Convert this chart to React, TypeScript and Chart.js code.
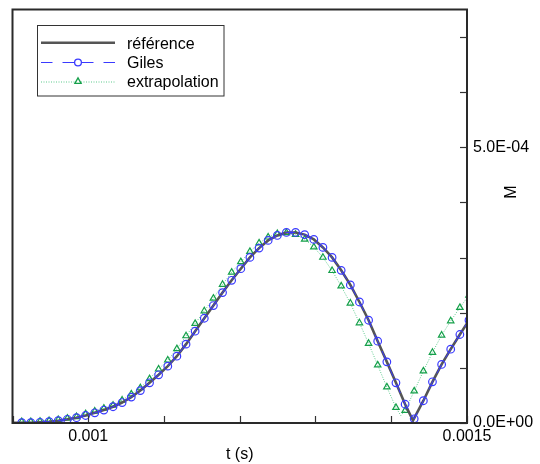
import React, { useEffect, useRef } from 'react';
import { Chart, registerables } from 'chart.js';

Chart.register(...registerables);

// ---- data (t in seconds, M dimensionless) ----
const times = [
  0.0009122, 0.0009242, 0.0009363, 0.0009483, 0.0009604, 0.0009724, 0.0009845, 0.0009965, 0.0010086, 0.0010206,
  0.0010327, 0.0010447, 0.0010568, 0.0010688, 0.0010809, 0.0010929, 0.0011050, 0.0011170, 0.0011291, 0.0011411,
  0.0011532, 0.0011652, 0.0011773, 0.0011893, 0.0012014, 0.0012134, 0.0012255, 0.0012375, 0.0012496, 0.0012616,
  0.0012737, 0.0012857, 0.0012978, 0.0013098, 0.0013219, 0.0013339, 0.0013460, 0.0013580, 0.0013701, 0.0013821,
  0.0013942, 0.0014062, 0.0014183, 0.0014303, 0.0014424, 0.0014544, 0.0014665, 0.0014785, 0.0014906, 0.0015026,
];

const gilesValues = [
  0.05e-5, 0.05e-5, 0.13e-5, 0.24e-5, 0.42e-5, 0.67e-5, 0.96e-5, 1.36e-5, 1.85e-5, 2.35e-5,
  2.95e-5, 3.71e-5, 4.70e-5, 5.88e-5, 7.29e-5, 8.74e-5, 10.31e-5, 12.12e-5, 14.30e-5, 16.65e-5,
  19.00e-5, 21.30e-5, 23.65e-5, 25.88e-5, 27.99e-5, 30.04e-5, 31.72e-5, 33.12e-5, 34.02e-5, 34.56e-5,
  34.56e-5, 34.17e-5, 33.30e-5, 31.85e-5, 30.04e-5, 27.69e-5, 25.05e-5, 21.95e-5, 18.64e-5, 14.84e-5,
  11.09e-5, 7.29e-5, 3.40e-5, 0.76e-5, 4.04e-5, 7.47e-5, 10.62e-5, 13.39e-5, 16.05e-5, 18.64e-5,
];

const referenceTimes = [
  0.0009000, 0.0009122, 0.0009242, 0.0009363, 0.0009483, 0.0009604, 0.0009724, 0.0009845, 0.0009965, 0.0010086, 0.0010206,
  0.0010327, 0.0010447, 0.0010568, 0.0010688, 0.0010809, 0.0010929, 0.0011050, 0.0011170, 0.0011291, 0.0011411,
  0.0011532, 0.0011652, 0.0011773, 0.0011893, 0.0012014, 0.0012134, 0.0012255, 0.0012375, 0.0012496, 0.0012616,
  0.0012737, 0.0012857, 0.0012978, 0.0013098, 0.0013219, 0.0013339, 0.0013460, 0.0013580, 0.0013701, 0.0013821,
  0.0013942, 0.0014062, 0.0014183, 0.0014287, 0.0014424, 0.0014544, 0.0014665, 0.0014785, 0.0014906, 0.0015026,
];

const referenceValues = [
  0.02e-5, 0.05e-5, 0.05e-5, 0.13e-5, 0.24e-5, 0.42e-5, 0.67e-5, 0.96e-5, 1.36e-5, 1.85e-5, 2.35e-5,
  2.95e-5, 3.71e-5, 4.70e-5, 5.88e-5, 7.29e-5, 8.74e-5, 10.31e-5, 12.12e-5, 14.30e-5, 16.65e-5,
  19.00e-5, 21.30e-5, 23.65e-5, 25.88e-5, 27.99e-5, 30.04e-5, 31.72e-5, 33.12e-5, 34.02e-5, 34.56e-5,
  34.56e-5, 34.17e-5, 33.30e-5, 31.85e-5, 30.04e-5, 27.69e-5, 25.05e-5, 21.95e-5, 18.64e-5, 14.84e-5,
  11.09e-5, 7.29e-5, 3.40e-5, 0.45e-5, 4.04e-5, 7.47e-5, 10.62e-5, 13.39e-5, 16.05e-5, 18.64e-5,
];

const extrapTimes = [
  0.0009122, 0.0009242, 0.0009363, 0.0009483, 0.0009604, 0.0009724, 0.0009845, 0.0009965, 0.0010086, 0.0010206,
  0.0010327, 0.0010447, 0.0010568, 0.0010688, 0.0010809, 0.0010929, 0.0011050, 0.0011170, 0.0011291, 0.0011411,
  0.0011532, 0.0011652, 0.0011773, 0.0011893, 0.0012014, 0.0012134, 0.0012255, 0.0012375, 0.0012496, 0.0012616,
  0.0012737, 0.0012857, 0.0012978, 0.0013098, 0.0013219, 0.0013339, 0.0013460, 0.0013580, 0.0013701, 0.0013821,
  0.0013942, 0.0014062, 0.0014126, 0.0014183, 0.0014303, 0.0014424, 0.0014544, 0.0014665, 0.0014785, 0.0014906,
  0.0015026,
];

const extrapValues = [
  0.24e-5, 0.24e-5, 0.31e-5, 0.42e-5, 0.60e-5, 0.85e-5, 1.14e-5, 1.66e-5, 2.14e-5, 2.66e-5,
  3.20e-5, 4.13e-5, 5.25e-5, 6.37e-5, 8.02e-5, 9.77e-5, 11.40e-5, 13.45e-5, 15.80e-5, 18.04e-5,
  20.32e-5, 22.62e-5, 25.12e-5, 27.33e-5, 29.23e-5, 31.09e-5, 32.63e-5, 33.71e-5, 34.33e-5, 34.51e-5,
  34.20e-5, 33.33e-5, 31.90e-5, 30.04e-5, 27.63e-5, 24.83e-5, 21.72e-5, 18.15e-5, 14.42e-5, 10.50e-5,
  6.51e-5, 2.80e-5, 1.36e-5, 2.26e-5, 5.79e-5, 9.41e-5, 12.79e-5, 15.92e-5, 18.51e-5, 20.94e-5,
  23.16e-5,
];
// index in extrapTimes that is a line vertex without a symbol
const extrapNoSymbol = [42];

const xTickValues = [0.0009, 0.001, 0.0011, 0.0012, 0.0013, 0.0014, 0.0015];
const xTickLabels = ['', '0.001', '', '', '', '', '0.0015'];
const yTickValues = [0, 1e-4, 2e-4, 3e-4, 4e-4, 5e-4, 6e-4, 7e-4];
const yTickLabels = ['0.0E+00', '', '', '', '', '5.0E-04', '', ''];

const seriesNames = ['référence', 'Giles', 'extrapolation'];
const xTitle = 't (s)';
const yTitle = 'M';

const FONT = "'Liberation Sans', Arial, Helvetica, sans-serif";
const GRAY = '#555555';
const BLUE = '#3a3aff';
const GREEN_LINE = '#5cc98c';
const GREEN_SYM = '#15a04a';

const decorPlugin = {
  id: 'decor',
  afterDraw(chart: any) {
    const { ctx, chartArea } = chart;
    const { left, right, top, bottom } = chartArea;
    ctx.save();
    // inward ticks
    ctx.strokeStyle = '#333';
    ctx.lineWidth = 1.2;
    const xs = chart.scales.x;
    xs.ticks.forEach((t: any) => {
      const px = Math.round(xs.getPixelForValue(t.value)) + 0.5;
      ctx.beginPath();
      ctx.moveTo(px, bottom);
      ctx.lineTo(px, bottom - 7);
      ctx.stroke();
    });
    const ys = chart.scales.y;
    ys.ticks.forEach((t: any) => {
      const py = Math.round(ys.getPixelForValue(t.value)) + 0.5;
      ctx.beginPath();
      ctx.moveTo(right, py);
      ctx.lineTo(right - 7, py);
      ctx.stroke();
    });
    // frame
    ctx.strokeStyle = '#2a2a2a';
    ctx.lineWidth = 2;
    ctx.strokeRect(left, top, right - left, bottom - top);

    // right axis title, reading bottom to top
    ctx.fillStyle = '#000';
    ctx.font = `16px ${FONT}`;
    ctx.textAlign = 'center';
    ctx.textBaseline = 'middle';
    ctx.save();
    ctx.translate(511.5, 192);
    ctx.rotate(-Math.PI / 2);
    ctx.fillText(yTitle, 0, 0);
    ctx.restore();

    // legend box
    ctx.strokeStyle = '#333';
    ctx.lineWidth = 1;
    ctx.strokeRect(37.5, 25.5, 186.5, 70.5);
    const x0 = 41, x1 = 115, xm = 78;
    const rows = [42.7, 62, 81.5];
    // référence
    ctx.strokeStyle = GRAY;
    ctx.lineWidth = 2.5;
    ctx.beginPath();
    ctx.moveTo(x0, rows[0]);
    ctx.lineTo(x1, rows[0]);
    ctx.stroke();
    // Giles
    ctx.strokeStyle = BLUE;
    ctx.lineWidth = 1;
    ctx.setLineDash([11.5, 10]);
    ctx.beginPath();
    ctx.moveTo(x0, rows[1] + 0.5);
    ctx.lineTo(xm, rows[1] + 0.5);
    ctx.stroke();
    ctx.beginPath();
    ctx.moveTo(x1, rows[1] + 0.5);
    ctx.lineTo(xm, rows[1] + 0.5);
    ctx.stroke();
    ctx.setLineDash([]);
    ctx.lineWidth = 1.3;
    ctx.fillStyle = '#fff';
    ctx.beginPath();
    ctx.arc(xm, rows[1] + 0.5, 3.4, 0, Math.PI * 2);
    ctx.fill();
    ctx.stroke();
    // extrapolation
    ctx.strokeStyle = GREEN_LINE;
    ctx.lineWidth = 1;
    ctx.setLineDash([1, 1.5]);
    ctx.beginPath();
    ctx.moveTo(x0, rows[2] + 0.5);
    ctx.lineTo(x1, rows[2] + 0.5);
    ctx.stroke();
    ctx.setLineDash([]);
    ctx.strokeStyle = GREEN_SYM;
    ctx.lineWidth = 1.3;
    const r = 3.6;
    ctx.beginPath();
    ctx.moveTo(xm, rows[2] - r);
    ctx.lineTo(xm + r * Math.sin((2 * Math.PI) / 3), rows[2] - r * Math.cos((2 * Math.PI) / 3));
    ctx.lineTo(xm + r * Math.sin((4 * Math.PI) / 3), rows[2] - r * Math.cos((4 * Math.PI) / 3));
    ctx.closePath();
    ctx.fillStyle = '#fff';
    ctx.fill();
    ctx.stroke();
    // legend text
    ctx.fillStyle = '#000';
    ctx.font = `16px ${FONT}`;
    ctx.textAlign = 'left';
    ctx.textBaseline = 'middle';
    seriesNames.forEach((name, i) => {
      ctx.fillText(name, 127, rows[i] + 1.5);
    });
    ctx.restore();
  },
};

const zeroPadding = (s: any) => {
  s.paddingTop = 0;
  s.paddingBottom = 0;
  s.paddingLeft = 0;
  s.paddingRight = 0;
};

export default function App() {
  const ref = useRef<HTMLCanvasElement | null>(null);
  useEffect(() => {
    document.body.style.margin = '0';
    const canvas = ref.current!;
    const chart = new Chart(canvas, {
      type: 'line',
      data: {
        datasets: [
          {
            label: seriesNames[0],
            data: referenceTimes.map((t, i) => ({ x: t, y: referenceValues[i] })),
            borderColor: GRAY,
            borderWidth: 2.6,
            pointRadius: 0,
            fill: false,
            order: 1,
          },
          {
            label: seriesNames[1],
            data: times.map((t, i) => ({ x: t, y: gilesValues[i] })),
            borderColor: BLUE,
            borderWidth: 1,
            borderDash: [10, 8],
            pointStyle: 'circle',
            pointRadius: 3.8,
            pointBorderWidth: 1.2,
            pointBorderColor: BLUE,
            pointBackgroundColor: 'rgba(0,0,0,0)',
            fill: false,
            order: 0,
          },
          {
            label: seriesNames[2],
            data: extrapTimes.map((t, i) => ({ x: t, y: extrapValues[i] })),
            borderColor: GREEN_LINE,
            borderWidth: 1,
            borderDash: [1, 1.5],
            pointStyle: 'triangle',
            pointRadius: (c: any) => (extrapNoSymbol.includes(c.dataIndex) ? 0 : 3.7),
            pointBorderWidth: 1.2,
            pointBorderColor: GREEN_SYM,
            pointBackgroundColor: 'rgba(0,0,0,0)',
            fill: false,
            order: 2,
          },
        ],
      },
      options: {
        animation: false,
        responsive: false,
        maintainAspectRatio: false,
        events: [],
        layout: { padding: { left: 12.5, top: 9.5, right: 0, bottom: 0 } },
        plugins: {
          legend: { display: false },
          tooltip: { enabled: false },
          title: { display: false },
        },
        scales: {
          x: {
            type: 'linear',
            min: 0.0009,
            max: 0.0015,
            afterBuildTicks: (s: any) => {
              s.ticks = xTickValues.map((v) => ({ value: v }));
            },
            afterFit: (s: any) => {
              s.height = 41;
              zeroPadding(s);
            },
            grid: { display: false, drawTicks: false },
            border: { display: false },
            ticks: {
              autoSkip: false,
              maxRotation: 0,
              padding: 4,
              color: '#000',
              font: { family: FONT, size: 16 },
              callback: (_v: any, i: number) => xTickLabels[i],
            },
            title: {
              display: true,
              text: xTitle,
              color: '#000',
              padding: 0,
              font: { family: FONT, size: 16 },
            },
          },
          y: {
            type: 'linear',
            position: 'right',
            min: 0,
            max: 7.5e-4,
            afterBuildTicks: (s: any) => {
              s.ticks = yTickValues.map((v) => ({ value: v }));
            },
            afterFit: (s: any) => {
              s.width = 73;
              zeroPadding(s);
            },
            grid: { display: false, drawTicks: false },
            border: { display: false },
            ticks: {
              autoSkip: false,
              padding: 6,
              crossAlign: 'near',
              color: '#000',
              font: { family: FONT, size: 16 },
              callback: (_v: any, i: number) => yTickLabels[i],
            },
            title: { display: false },
          },
        },
      },
      plugins: [decorPlugin],
    } as any);
    return () => chart.destroy();
  }, []);
  return (
    <div style={{ width: 540, height: 464 }}>
      <canvas ref={ref} width={540} height={464} style={{ display: 'block' }} />
    </div>
  );
}
